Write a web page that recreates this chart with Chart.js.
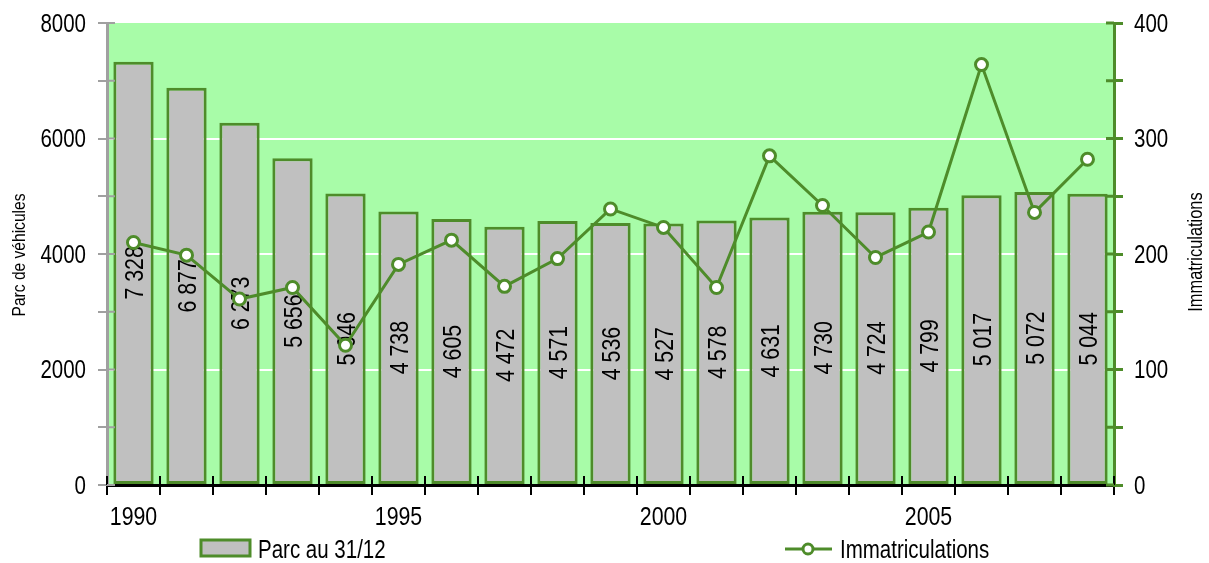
<!DOCTYPE html>
<html>
<head>
<meta charset="utf-8">
<script src="https://cdn.jsdelivr.net/npm/chart.js@4.4.1/dist/chart.umd.min.js"></script>
<style>
  html, body { margin: 0; padding: 0; background: #fff; }
  #wrap { width: 1209px; height: 563px; position: relative; }
</style>
</head>
<body>
<div id="wrap"><canvas id="chart" width="1209" height="563"></canvas></div>
<script>
let years = [1990, 1991, 1992, 1993, 1994, 1995, 1996, 1997, 1998, 1999,
             2000, 2001, 2002, 2003, 2004, 2005, 2006, 2007, 2008];
let parc = [7328, 6877, 6273, 5656, 5046, 4738, 4605, 4472, 4571, 4536,
            4527, 4578, 4631, 4730, 4724, 4799, 5017, 5072, 5044];
let immat = [210, 199, 161, 171, 121, 191, 212, 172, 196, 239,
             223, 171, 285, 242, 197, 219, 364, 236, 282];
let parcLabel = 'Parc au 31/12';
let immatLabel = 'Immatriculations';
let leftTitle = 'Parc de véhicules';
let rightTitle = 'Immatriculations';

// no narrow font installed, so Liberation Sans gets squeezed by hand
const FONT = '"Liberation Sans", Arial, sans-serif';
const NARROW = 0.82;
const GREEN = '#4e8c2a';
const BG = '#a8fca8';

Chart.defaults.font.family = FONT;

let fmt = (v) => {
    let s = String(v);
    return s.length > 3 ? s.substring(0, s.length - 3) + ' ' + s.substring(s.length - 3) : s;
};

// draws text centred vertically on y (cap height), squeezed horizontally
function narrowText(ctx, text, x, y, size, align, angle) {
    ctx.save();
    ctx.translate(x, y);
    if (angle) ctx.rotate(angle);
    ctx.scale(NARROW, 1);
    ctx.font = size + 'px ' + FONT;
    ctx.fillStyle = '#000';
    ctx.textAlign = align;
    ctx.textBaseline = 'alphabetic';
    ctx.fillText(text, 0, size * 0.358);
    ctx.restore();
}

let plotBg = {
    id: 'plotBg',
    beforeDraw(chart) {
        let a = chart.chartArea;
        let ctx = chart.ctx;
        ctx.save();
        ctx.fillStyle = BG;
        ctx.fillRect(a.left, a.top, a.right - a.left, a.bottom - a.top);
        ctx.restore();
    }
};

let barLabels = {
    id: 'barLabels',
    afterDatasetDraw(chart, args) {
        if (args.index !== 0) return;
        let meta = chart.getDatasetMeta(0);
        meta.data.forEach((bar, i) => {
            narrowText(chart.ctx, fmt(parc[i]), bar.x, (bar.y + bar.base) / 2, 26, 'center', -Math.PI / 2);
        });
    }
};

let extras = {
    id: 'extras',
    afterDraw(chart) {
        let ctx = chart.ctx;
        let a = chart.chartArea;
        let sx = chart.scales.x, sy = chart.scales.y, sy2 = chart.scales.y2;

        // inner halves of the tick marks (they cross the axis lines)
        ctx.save();
        ctx.lineWidth = 2;
        ctx.strokeStyle = '#000';
        for (let i = 0; i <= years.length; i++) {
            let x = Math.round(sx.left + (sx.right - sx.left) * i / years.length);
            ctx.beginPath();
            ctx.moveTo(x, a.bottom);
            ctx.lineTo(x, a.bottom - 9);
            ctx.stroke();
        }
        ctx.strokeStyle = '#a0a0a0';
        sy.ticks.forEach((t) => {
            let y = sy.getPixelForValue(t.value);
            ctx.beginPath();
            ctx.moveTo(a.left, y);
            ctx.lineTo(a.left + 8, y);
            ctx.stroke();
        });
        ctx.strokeStyle = GREEN;
        ctx.lineWidth = 3;
        sy2.ticks.forEach((t) => {
            let y = sy2.getPixelForValue(t.value);
            ctx.beginPath();
            ctx.moveTo(a.right, y);
            ctx.lineTo(a.right - 8, y);
            ctx.stroke();
        });
        ctx.restore();

        // tick labels
        sy.ticks.forEach((t) => {
            if (t.value % 2000 === 0) narrowText(ctx, String(t.value), 86, sy.getPixelForValue(t.value), 25, 'right');
        });
        sy2.ticks.forEach((t) => {
            if (t.value % 100 === 0) narrowText(ctx, String(t.value), 1134, sy2.getPixelForValue(t.value), 25, 'left');
        });
        years.forEach((yr, i) => {
            if (yr % 5 === 0) narrowText(ctx, String(yr), sx.getPixelForValue(i), 516, 26, 'center');
        });

        // axis titles
        let cy = (a.top + a.bottom) / 2;
        narrowText(ctx, leftTitle, 18, cy + 1, 19, 'center', -Math.PI / 2);
        narrowText(ctx, rightTitle, 1195, cy - 2, 20, 'center', -Math.PI / 2);

        // legend
        ctx.save();
        ctx.fillStyle = '#c0c0c0';
        ctx.fillRect(201, 540, 49, 16);
        ctx.strokeStyle = GREEN;
        ctx.lineWidth = 3;
        ctx.strokeRect(201, 540, 49, 16);
        ctx.beginPath();
        ctx.moveTo(785, 549);
        ctx.lineTo(832, 549);
        ctx.stroke();
        ctx.beginPath();
        ctx.arc(808, 549, 5, 0, Math.PI * 2);
        ctx.fillStyle = '#fff';
        ctx.fill();
        ctx.stroke();
        ctx.restore();
        narrowText(ctx, parcLabel, 258, 549, 25, 'left');
        narrowText(ctx, immatLabel, 840, 549, 25, 'left');
    }
};

new Chart(document.getElementById('chart').getContext('2d'), {
    type: 'bar',
    data: {
        labels: years,
        datasets: [{
            type: 'bar',
            label: parcLabel,
            data: parc,
            backgroundColor: '#c0c0c0',
            borderColor: GREEN,
            borderWidth: 3,
            borderSkipped: false,
            barPercentage: 0.76,
            categoryPercentage: 1,
            yAxisID: 'y',
            order: 2
        }, {
            type: 'line',
            label: immatLabel,
            data: immat,
            borderColor: GREEN,
            borderWidth: 3,
            pointRadius: 6,
            pointBorderWidth: 3,
            pointBackgroundColor: '#fff',
            pointBorderColor: GREEN,
            tension: 0,
            yAxisID: 'y2',
            order: 1
        }]
    },
    options: {
        responsive: false,
        animation: false,
        layout: { padding: { top: 23, left: 0, right: 0, bottom: 0 } },
        plugins: {
            legend: { display: false },
            tooltip: { enabled: false }
        },
        scales: {
            x: {
                offset: true,
                grid: {
                    offset: true,
                    drawOnChartArea: false,
                    color: '#000',
                    lineWidth: 2,
                    tickLength: 10
                },
                border: { color: '#000', width: 3 },
                ticks: { autoSkip: false, maxRotation: 0, color: 'rgba(0,0,0,0)', font: { size: 24 } },
                afterFit: (scale) => { scale.height = 78; }
            },
            y: {
                position: 'left',
                min: 0,
                max: 8000,
                ticks: { stepSize: 1000, color: 'rgba(0,0,0,0)', font: { size: 24 } },
                grid: {
                    color: (c) => (c.tick && c.tick.value % 2000 === 0 && c.tick.value > 0 && c.tick.value < 8000) ? '#fff' : 'rgba(0,0,0,0)',
                    lineWidth: 2,
                    tickColor: '#a0a0a0',
                    tickLength: 9
                },
                border: { color: '#a0a0a0', width: 3 },
                afterFit: (scale) => { scale.width = 107; }
            },
            y2: {
                position: 'right',
                min: 0,
                max: 400,
                ticks: { stepSize: 50, color: 'rgba(0,0,0,0)', font: { size: 24 } },
                grid: {
                    drawOnChartArea: false,
                    tickColor: GREEN,
                    lineWidth: 3,
                    tickLength: 9
                },
                border: { color: GREEN, width: 3 },
                afterFit: (scale) => { scale.width = 95; }
            }
        }
    },
    plugins: [plotBg, barLabels, extras]
});
</script>
</body>
</html>
